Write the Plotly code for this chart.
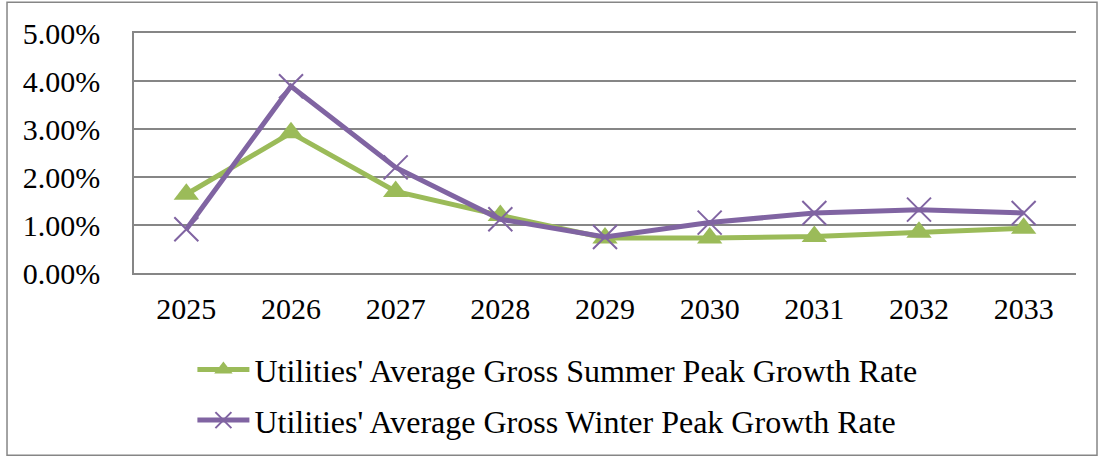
import plotly.graph_objects as go

years = ["2025", "2026", "2027", "2028", "2029", "2030", "2031", "2032", "2033"]
summer = [0.0164, 0.0292, 0.0170, 0.0120, 0.0073, 0.0073, 0.0076, 0.0085, 0.0093]
winter = [0.0091, 0.0389, 0.0220, 0.0112, 0.0075, 0.0105, 0.0125, 0.0132, 0.0125]
summer_name = "Utilities' Average Gross Summer Peak Growth Rate"
winter_name = "Utilities' Average Gross Winter Peak Growth Rate"
y_ticks = [0, 0.01, 0.02, 0.03, 0.04, 0.05]

GREEN = "#9BBB59"
PURPLE = "#8064A2"
GRID = "#868686"
FONT = "Liberation Serif, Times New Roman, serif"

fig = go.Figure()
fig.add_trace(go.Scatter(
    x=years, y=summer, name=summer_name, mode="lines+markers", legendgroup="s",
    line=dict(color=GREEN, width=5),
    marker=dict(symbol="triangle-up", size=22, color=GREEN),
))
fig.add_trace(go.Scatter(
    x=years, y=winter, name=winter_name, mode="lines+markers", legendgroup="w",
    line=dict(color=PURPLE, width=5),
    marker=dict(symbol="x-thin", size=24, color=PURPLE, line=dict(color=PURPLE, width=2)),
))

fig.update_layout(
    width=1100, height=459,
    margin=dict(l=134, r=24, t=33, b=185),
    paper_bgcolor="white", plot_bgcolor="white",
    font=dict(family=FONT, size=30, color="black"),
    showlegend=True,
    legend=dict(
        orientation="v", x=0.062, xanchor="left", y=-0.283, yanchor="top",
        font=dict(family=FONT, size=32, color="black"),
        itemwidth=52, tracegroupgap=6, traceorder="grouped",
        bgcolor="rgba(0,0,0,0)",
    ),
    xaxis=dict(
        type="category", showgrid=False, showline=True, mirror=True,
        linecolor=GRID, linewidth=1.5,
        ticks="", tickfont=dict(size=30), ticklabelstandoff=8,
        range=[-0.5, 8.5],
    ),
    yaxis=dict(
        range=[0, 0.05], tickvals=y_ticks, tickformat=".2%",
        showgrid=True, gridcolor=GRID, gridwidth=1.5,
        showline=True, linecolor=GRID, linewidth=1.5,
        ticks="", tickfont=dict(size=30), ticklabelstandoff=26, zeroline=False,
    ),
    shapes=[dict(
        type="rect", xref="paper", yref="paper",
        x0=-0.1348, x1=1.0223, y0=-0.759, y1=1.1286,
        line=dict(color=GRID, width=1.5), fillcolor="rgba(0,0,0,0)", layer="below",
    )],
)

fig.write_html("out.html", config={"displayModeBar": False},
               post_script="document.body.style.margin='0';")
